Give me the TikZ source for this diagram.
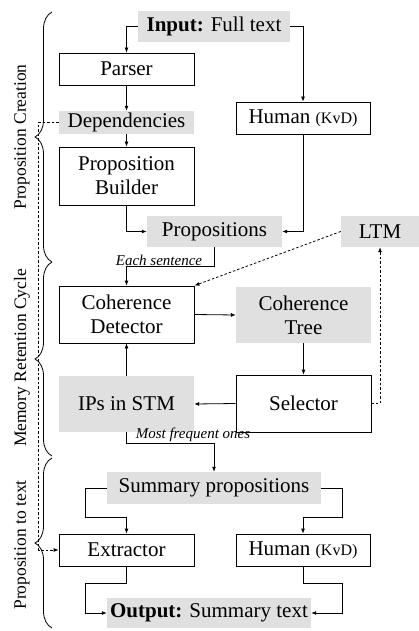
\documentclass[tikz,border=0pt]{standalone}
\usepackage{fontspec}
\setmainfont{Liberation Serif}
\usetikzlibrary{arrows.meta,decorations.pathreplacing,calc}
\definecolor{boxgray}{RGB}{224,224,224}
\begin{document}
\begin{tikzpicture}[x=1pt,y=-1pt,
  every node/.style={font=\fontsize{21}{24}\selectfont, inner sep=0pt, align=center},
  wbox/.style={draw, line width=0.8pt, fill=white},
  gbox/.style={fill=boxgray},
  arr/.style={line width=0.8pt, -{Latex[length=5pt,width=4pt]}},
  darr/.style={arr, dash pattern=on 2.5pt off 2pt},
  brc/.style={decorate, decoration={brace, amplitude=17pt}, line width=0.8pt},
  side/.style={rotate=90, font=\fontsize{17.5}{20}\selectfont},
  lab/.style={font=\itshape\fontsize{15}{17}\selectfont, inner sep=1pt}
]
\useasboundingbox (0,0) rectangle (419,631);

\node[gbox, minimum width=152pt, minimum height=31pt] (input) at (214,26.5) {\textbf{Input:} Full text};
\node[wbox, minimum width=135pt, minimum height=32pt] (parser) at (126.5,69) {Parser};
\node[gbox, minimum width=135pt, minimum height=23pt] (dep) at (126.5,122.5) {Dependencies};
\node[wbox, minimum width=135pt, minimum height=58pt] (pb) at (126.5,176) {Proposition\\Builder};
\node[wbox, minimum width=134pt, minimum height=32pt] (h1) at (303,118) {Human {\fontsize{16}{18}\selectfont(KvD)}};
\node[gbox, minimum width=135pt, minimum height=31pt] (props) at (214.5,231.5) {Propositions};
\node[gbox, minimum width=78pt, minimum height=31pt] (ltm) at (380,231.5) {LTM};
\node[wbox, minimum width=135pt, minimum height=57pt] (cd) at (126.5,314.5) {Coherence\\Detector};
\node[gbox, minimum width=135pt, minimum height=56pt] (ct) at (303.5,315) {Coherence\\Tree};
\node[wbox, minimum width=135pt, minimum height=57pt] (sel) at (303.5,403.5) {Selector};
\node[gbox, minimum width=135pt, minimum height=56pt] (ips) at (126.5,404) {IPs in STM};
\node[gbox, minimum width=214pt, minimum height=32pt] (sp) at (214,488) {Summary propositions};
\node[wbox, minimum width=135pt, minimum height=32pt] (ext) at (126.5,550) {Extractor};
\node[wbox, minimum width=134pt, minimum height=32pt] (h2) at (303,550) {Human {\fontsize{16}{18}\selectfont(KvD)}};
\node[gbox, minimum width=204pt, minimum height=30pt] (out) at (209,613) {\textbf{Output:} Summary text};

\draw[arr] (input.west) -| (parser.north);
\draw[arr] (input.east) -| (h1.north);
\draw[arr] (parser.south) -- (dep.north);
\draw[arr] (dep.south) -- (pb.north);
\draw[arr] (pb.south) |- (props.west);
\draw[arr] (h1.south) |- (props.east);
\draw[arr] (props.south) -- ++(0,19.5) -| (cd.north);
\node[lab, anchor=south] (eslab) at (159,267) {Each sentence};
\draw[darr] (ltm.west) -- (cd.north east);
\draw[arr] (cd.east) -- (ct.west);
\draw[arr] (ct.south) -- (sel.north);
\draw[darr] (sel.east) -| (ltm.south);
\draw[arr] (sel.west) -- (ips.east);
\draw[arr] (ips.north) -- (cd.south);
\draw[arr] (ips.south) -- ++(0,11) -| (sp.north);
\node[lab, anchor=south] (mflab) at (193,443) {Most frequent ones};
\draw[arr] (sp.west) -- ++(-21,0) |- ($(ext.north)+(0,-16)$) -- (ext.north);
\draw[arr] (sp.east) -- ++(21,0) |- ($(h2.north)+(0,-16)$) -- (h2.north);
\draw[arr] (ext.south) -- ++(0,17) -- ++(-41.5,0) |- (out.west);
\draw[arr] (h2.south) -- ++(0,17) -- ++(39,0) |- (out.east);
\draw[darr] (dep.west) -- ++(-20,0) |- (ext.west);

\draw[brc] (52,262) -- (52,12);
\draw[brc] (52,456) -- (52,262);
\draw[brc] (52,628) -- (52,458);
\node[side] (l1) at (22,137) {Proposition Creation};
\node[side] (l2) at (22,358) {Memory Retention Cycle};
\node[side] (l3) at (22,545) {Proposition to text};
\end{tikzpicture}
\end{document}
